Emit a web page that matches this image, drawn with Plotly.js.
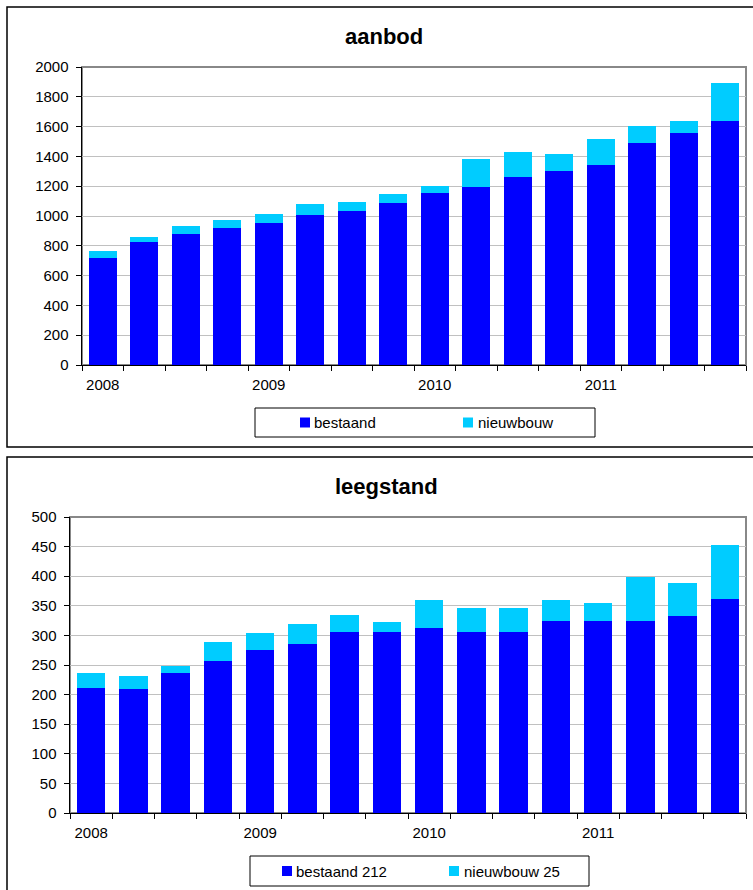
<!DOCTYPE html>
<html>
<head>
<meta charset="utf-8">
<script src="https://cdn.plot.ly/plotly-3.0.1.min.js"></script>
<style>
  html, body { margin: 0; padding: 0; background: #ffffff; }
  #chart { width: 753px; height: 890px; }
</style>
</head>
<body>
<div id="chart"></div>
<script>
// Quarterly periods 2008–2011
const quarters = [
  '2008 K1', '2008 K2', '2008 K3', '2008 K4',
  '2009 K1', '2009 K2', '2009 K3', '2009 K4',
  '2010 K1', '2010 K2', '2010 K3', '2010 K4',
  '2011 K1', '2011 K2', '2011 K3', '2011 K4'
];
const yearLabels = [
  '2008', '', '', '',
  '2009', '', '', '',
  '2010', '', '', '',
  '2011', '', '', ''
];

// aanbod (supply)
const aanbodBestaand  = [717, 825, 880, 920, 950, 1005, 1035, 1087, 1155, 1195, 1262, 1302, 1342, 1489, 1555, 1636];
const aanbodNieuwbouw = [47, 35, 50, 50, 65, 75, 60, 61, 45, 187, 169, 116, 174, 113, 81, 257];

// leegstand (vacancy)
const leegstandBestaand  = [212, 209, 236, 256, 276, 286, 305, 305, 312, 305, 305, 325, 325, 325, 332, 362];
const leegstandNieuwbouw = [25, 22, 12, 33, 28, 34, 29, 17, 48, 42, 42, 35, 30, 73, 57, 90];

const seriesNamesTop = ['bestaand', 'nieuwbouw'];
const seriesNamesBottom = ['bestaand 212', 'nieuwbouw 25'];

const COL_BESTAAND = '#0000ff';
const COL_NIEUW = '#00ccff';
const FONT = 'Liberation Sans, Arial, Helvetica, sans-serif';

const W = 753, H = 890;
const px = x => x / W;
const py = y => 1 - y / H;

const traces = [
  { type: 'bar', x: quarters, y: aanbodBestaand, name: seriesNamesTop[0],
    marker: { color: COL_BESTAAND }, xaxis: 'x', yaxis: 'y' },
  { type: 'bar', x: quarters, y: aanbodNieuwbouw, name: seriesNamesTop[1],
    marker: { color: COL_NIEUW }, xaxis: 'x', yaxis: 'y' },
  { type: 'bar', x: quarters, y: leegstandBestaand, name: seriesNamesBottom[0],
    marker: { color: COL_BESTAAND }, xaxis: 'x2', yaxis: 'y2' },
  { type: 'bar', x: quarters, y: leegstandNieuwbouw, name: seriesNamesBottom[1],
    marker: { color: COL_NIEUW }, xaxis: 'x2', yaxis: 'y2' }
];

function xAxis(domain, anchor) {
  return {
    domain: domain, anchor: anchor, type: 'category',
    tickmode: 'array', tickvals: quarters, ticktext: yearLabels,
    tickson: 'boundaries', ticks: 'outside', ticklen: 5, tickwidth: 1, tickcolor: '#000',
    tickangle: 0,
    showline: true, linecolor: '#000', linewidth: 1,
    showgrid: false, zeroline: false,
    tickfont: { family: FONT, size: 15, color: '#000' },
    ticklabelstandoff: 6, fixedrange: true
  };
}
function yAxis(domain, anchor, max, step) {
  return {
    domain: domain, anchor: anchor, range: [0, max],
    tickmode: 'linear', tick0: 0, dtick: step,
    ticks: 'outside', ticklen: 5, tickwidth: 1, tickcolor: '#000',
    showline: true, linecolor: '#000', linewidth: 1.5,
    showgrid: true, gridcolor: '#c0c0c0', gridwidth: 1,
    zeroline: false,
    tickfont: { family: FONT, size: 15, color: '#000' },
    ticklabelstandoff: 4, fixedrange: true
  };
}

const legendBox = (x0, y0, x1, y1) => ({
  type: 'rect', xref: 'paper', yref: 'paper',
  x0: px(x0), x1: px(x1), y0: py(y1), y1: py(y0),
  line: { color: '#000', width: 1 }, fillcolor: 'rgba(0,0,0,0)'
});
const swatch = (x, yc, color) => ({
  type: 'rect', xref: 'paper', yref: 'paper',
  x0: px(x), x1: px(x + 10), y0: py(yc + 5), y1: py(yc - 5),
  line: { width: 0 }, fillcolor: color
});
const legendText = (x, yc, text) => ({
  xref: 'paper', yref: 'paper', x: px(x), y: py(yc),
  xanchor: 'left', yanchor: 'middle', showarrow: false, text: text,
  font: { family: FONT, size: 15, color: '#000' }
});

const shapes = [
  // panel frames
  { type: 'rect', xref: 'paper', yref: 'paper', x0: px(7), x1: 1.02, y0: py(447), y1: py(7),
    line: { color: '#000', width: 1.5 }, fillcolor: 'rgba(0,0,0,0)' },
  { type: 'rect', xref: 'paper', yref: 'paper', x0: px(7), x1: 1.02, y0: -0.02, y1: py(457),
    line: { color: '#000', width: 1.5 }, fillcolor: 'rgba(0,0,0,0)' },
  // plot area borders
  { type: 'rect', xref: 'x domain', yref: 'y domain', x0: 0, x1: 1, y0: 0, y1: 1,
    line: { color: '#888888', width: 2 }, layer: 'below' },
  { type: 'rect', xref: 'x2 domain', yref: 'y2 domain', x0: 0, x1: 1, y0: 0, y1: 1,
    line: { color: '#888888', width: 2 }, layer: 'below' },
  // legend frames and swatches
  legendBox(255, 408, 595, 437),
  swatch(300, 422.5, COL_BESTAAND),
  swatch(463, 422.5, COL_NIEUW),
  legendBox(250, 856, 589, 886),
  swatch(282, 871, COL_BESTAAND),
  swatch(449, 871, COL_NIEUW)
];

const annotations = [
  { xref: 'paper', yref: 'paper', x: px(384), y: py(36), xanchor: 'center', yanchor: 'middle',
    showarrow: false, text: '<b>aanbod</b>', font: { family: FONT, size: 22, color: '#000' } },
  { xref: 'paper', yref: 'paper', x: px(386), y: py(486), xanchor: 'center', yanchor: 'middle',
    showarrow: false, text: '<b>leegstand</b>', font: { family: FONT, size: 22, color: '#000' } },
  legendText(312, 422.5, seriesNamesTop[0]),
  legendText(476, 422.5, seriesNamesTop[1]),
  legendText(294, 871, seriesNamesBottom[0]),
  legendText(462, 871, seriesNamesBottom[1])
];

const layout = {
  width: W, height: H,
  margin: { l: 0, r: 0, t: 0, b: 0 },
  paper_bgcolor: '#ffffff', plot_bgcolor: '#ffffff',
  barmode: 'stack', bargap: 0.32,
  showlegend: false,
  font: { family: FONT, size: 15, color: '#000' },
  xaxis: xAxis([px(82), px(746)], 'y'),
  yaxis: yAxis([py(365), py(67)], 'x', 2000, 200),
  xaxis2: xAxis([px(70), px(746)], 'y2'),
  yaxis2: yAxis([py(813), py(517)], 'x2', 500, 50),
  shapes: shapes,
  annotations: annotations
};

Plotly.newPlot('chart', traces, layout, { displayModeBar: false, staticPlot: true });
</script>
</body>
</html>
